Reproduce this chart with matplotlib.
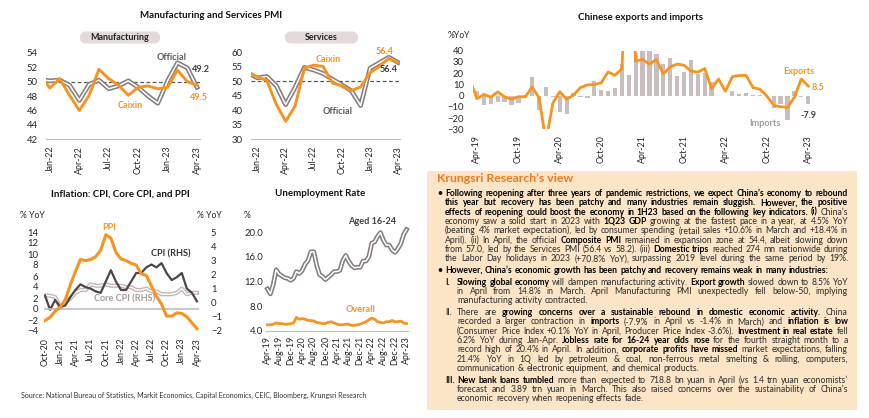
import matplotlib
matplotlib.use('Agg')
import matplotlib.pyplot as plt
from matplotlib.patches import FancyBboxPatch, Rectangle
from matplotlib.font_manager import FontProperties
import pandas as pd

plt.rcParams['font.family'] = ['Lato', 'DejaVu Sans']

W, H = 870, 418
ORANGE = '#F7931E'
OFFICIAL = '#877C7D'
LIGHTGREY = '#C4B6B6'
TXT = '#262626'

# ---- data ----
pmi_months = list(pd.date_range('2021-12-01', '2023-04-01', freq='MS').strftime('%b-%y'))
pmi_ticks = ['Jan-22', 'Apr-22', 'Jul-22', 'Oct-22', 'Jan-23', 'Apr-23']
mfg_official = [50.3, 50.1, 50.2, 49.5, 47.4, 49.6, 50.2, 49.0, 49.4, 50.1, 49.2, 48.0, 47.0, 50.1, 52.6, 51.9, 49.2]
mfg_caixin = [50.9, 49.1, 50.4, 48.1, 46.0, 48.1, 51.7, 50.4, 49.5, 48.1, 49.2, 49.4, 49.0, 49.2, 51.6, 50.0, 49.5]
srv_official = [52.7, 51.1, 51.6, 48.4, 41.9, 47.8, 54.7, 53.8, 52.6, 50.6, 48.7, 46.7, 41.6, 54.4, 56.3, 58.2, 56.4]
srv_caixin = [53.1, 51.4, 50.2, 42.0, 36.2, 41.4, 54.5, 55.5, 55.0, 49.3, 48.4, 46.7, 48.0, 52.9, 55.0, 57.8, 56.4]

trade_months = list(pd.date_range('2019-03-01', '2023-04-01', freq='MS').strftime('%b-%y'))
trade_ticks = ['Apr-19', 'Oct-19', 'Apr-20', 'Oct-20', 'Apr-21', 'Oct-21', 'Apr-22', 'Oct-22', 'Apr-23']
exports = [13.8, -2.7, 1.1, -1.3, 3.3, -1.0, -3.2, -0.9, -1.1, 7.6,
           -2.0, -40.6, -6.6, 3.5, -3.3, 0.5, 7.2, 9.5, 9.9, 11.4, 21.1, 18.1,
           24.0, 154.9, 30.6, 32.3, 27.9, 32.2, 19.3, 25.6, 28.1, 27.1, 22.0, 20.9,
           24.1, 6.2, 14.7, 3.9, 16.9, 17.9, 18.0, 7.1, 5.7, -0.3, -8.7, -9.9,
           -10.5, -1.3, 14.8, 8.5]
imports = [-7.6, 4.0, -8.5, -7.3, -5.3, -5.6, -8.5, -6.4, 0.3, 16.3,
           -12.6, 7.5, -0.9, -14.2, -16.7, 2.7, -1.4, -2.1, 13.2, 4.7, 4.5, 6.5,
           28.0, 18.5, 38.1, 43.1, 51.1, 36.7, 28.1, 33.1, 17.6, 20.6, 31.7, 19.5,
           20.5, 11.7, -0.1, 0.0, 4.1, 1.0, 2.3, 0.3, 0.3, -0.7, -10.6, -7.5,
           -21.3, 4.2, -1.4, -7.9]

infl_months = list(pd.date_range('2020-10-01', '2023-04-01', freq='MS').strftime('%b-%y'))
infl_ticks = ['Oct-20', 'Jan-21', 'Apr-21', 'Jul-21', 'Oct-21', 'Jan-22', 'Apr-22', 'Jul-22', 'Oct-22', 'Jan-23', 'Apr-23']
ppi = [-2.1, -1.5, -0.4, 0.3, 1.7, 4.4, 6.8, 9.0, 8.8, 9.0, 9.5, 10.7, 13.5, 12.9, 10.3, 9.1,
       8.8, 8.3, 8.0, 6.4, 6.1, 4.2, 2.3, 0.9, -1.3, -1.3, -0.7, -0.8, -1.4, -2.5, -3.6]
cpi = [0.5, -0.5, 0.2, -0.3, -0.2, 0.4, 0.9, 1.3, 1.1, 1.0, 0.8, 0.7, 1.5, 2.3, 1.5, 0.9,
       0.9, 1.5, 2.1, 2.1, 2.5, 2.7, 2.5, 2.8, 2.1, 1.6, 1.8, 2.1, 1.0, 0.7, 0.1]
core_cpi = [0.5, 0.5, 0.4, -0.3, 0.0, 0.3, 0.7, 0.9, 0.9, 1.3, 1.2, 1.2, 1.3, 1.2, 1.2, 1.2,
            1.1, 1.1, 0.9, 0.9, 1.0, 0.8, 0.8, 0.6, 0.6, 0.6, 0.7, 1.0, 0.6, 0.7, 0.7]

unemp_months = list(pd.date_range('2019-04-01', '2023-04-01', freq='MS').strftime('%b-%y'))
unemp_ticks = unemp_months[::4]
youth = [10.8, 10.0, 11.5, 13.9, 13.2, 12.9, 12.6, 12.5, 12.2,
         12.5, 13.6, 13.3, 13.8, 14.8, 15.4, 16.8, 16.8, 14.6, 13.1, 12.8, 12.3,
         12.7, 13.1, 13.6, 13.6, 13.8, 15.4, 16.2, 15.3, 14.6, 14.2, 14.3, 14.3,
         15.3, 15.3, 16.0, 18.2, 18.4, 19.3, 19.9, 18.7, 17.9, 17.9, 17.1, 16.7,
         17.3, 18.1, 19.6, 20.4]
overall = [5.0, 5.0, 5.1, 5.3, 5.2, 5.2, 5.1, 5.1, 5.2,
           5.3, 6.2, 5.9, 6.0, 5.9, 5.7, 5.7, 5.6, 5.4, 5.3, 5.2, 5.2,
           5.4, 5.5, 5.3, 5.1, 5.0, 5.0, 5.1, 5.1, 4.9, 4.9, 5.0, 5.1,
           5.3, 5.5, 5.8, 6.1, 5.9, 5.5, 5.4, 5.3, 5.5, 5.5, 5.7, 5.5,
           5.5, 5.6, 5.3, 5.2]

# ---- figure ----
fig = plt.figure(figsize=(W / 100, H / 100), dpi=100)
fig.patch.set_facecolor('white')
ov = fig.add_axes([0, 0, 1, 1])
ov.set_xlim(0, W)
ov.set_ylim(H, 0)
ov.axis('off')
ov.set_zorder(5)


def px_axes(l, t, r, b):
    return fig.add_axes([l / W, 1 - b / H, (r - l) / W, (b - t) / H])


def base_style(ax, ypad, xpad):
    for s in ax.spines.values():
        s.set_visible(False)
    ax.tick_params(length=0, colors=TXT)
    ax.tick_params(axis='y', pad=ypad, labelsize=6.8)
    ax.tick_params(axis='x', pad=xpad, labelsize=6.4)
    ax.patch.set_alpha(0)


def set_xlabels(ax, months, wanted):
    pos = [i for i, m in enumerate(months) if m in wanted]
    ax.set_xticks(pos)
    ax.set_xticklabels([months[i] for i in pos], rotation=90)


def double_line(ax, x, y, outer, lw=3.4, clip=True):
    ax.plot(x, y, color=outer, lw=lw, zorder=3, solid_joinstyle='round', clip_on=clip)
    ax.plot(x, y, color='white', lw=lw * 0.33, zorder=3.1, solid_joinstyle='round', clip_on=clip)


def note(x, y, s, color, size=6.6, bold=True, ha='center'):
    ov.text(x, y, s, color=color, fontsize=size, fontweight='bold' if bold else 'normal',
            ha=ha, va='center')


# ---- PMI panels ----
ov.text(211, 16, 'Manufacturing and Services PMI', fontsize=7.0, fontweight='bold',
        ha='center', va='center', color='#111111')
for cx, w, label in [(120, 80, 'Manufacturing'), (321.5, 73, 'Services')]:
    ov.add_patch(FancyBboxPatch((cx - w / 2, 31.5), w, 12, boxstyle='round,pad=0,rounding_size=6',
                                fc='#E4DADA', ec='none'))
    ov.text(cx, 37.5, label, fontsize=6.4, fontweight='bold', ha='center', va='center', color='#222222')

xp = range(len(pmi_months))
ax1 = px_axes(46, 52.7, 200, 139.3)
base_style(ax1, 6.0, 4.8)
ax1.axhline(50, color='#595959', lw=0.9, ls=(0, (3, 2)), zorder=1)
double_line(ax1, xp, mfg_official, OFFICIAL)
ax1.plot(xp, mfg_caixin, color=ORANGE, lw=2.1, zorder=4)
ax1.set_xlim(0.6, 16.3)
ax1.set_ylim(42, 54)
ax1.set_yticks(range(42, 55, 2))
ax1.spines['bottom'].set_visible(True)
ax1.spines['bottom'].set_color('#BFBFBF')
set_xlabels(ax1, pmi_months, pmi_ticks)
note(172, 57, 'Official', '#595959')
note(201, 70, '49.2', '#404040')
note(199, 98, '49.5', ORANGE)
note(130, 106, 'Caixin', ORANGE)

ax2 = px_axes(251, 52, 400, 139.3)
base_style(ax2, 6.0, 4.8)
ax2.axhline(50, color='#595959', lw=0.9, ls=(0, (3, 2)), zorder=1)
double_line(ax2, xp, srv_official, OFFICIAL)
ax2.plot(xp, srv_caixin, color=ORANGE, lw=2.1, zorder=4)
ax2.set_xlim(0.3, 16.2)
ax2.set_ylim(30, 60)
ax2.set_yticks(range(30, 61, 5))
ax2.spines['bottom'].set_visible(True)
ax2.spines['bottom'].set_color('#BFBFBF')
set_xlabels(ax2, pmi_months, pmi_ticks)
note(328, 59, 'Caixin', ORANGE)
note(385, 52, '56.4', ORANGE)
note(389, 70, '56.4', '#404040')
note(338, 111, 'Official', '#595959')

# ---- exports / imports ----
ov.text(641, 17, 'Chinese exports and imports', fontsize=7.0, fontweight='bold',
        ha='center', va='center', color='#111111')
ov.text(459, 35, '%YoY', fontsize=6.2, ha='center', va='center', color=TXT)
xt = range(len(trade_months))
ax3 = px_axes(473.5, 50.7, 811, 129.3)
base_style(ax3, 7.0, 4.0)
ax3.bar(xt, imports, width=0.62, color='#C9BDBD', zorder=2)
ax3.plot(xt, exports, color=ORANGE, lw=2.0, zorder=3)
ax3.set_xlim(0.5, 49.4)
ax3.set_ylim(-30, 40)
ax3.set_yticks(range(-30, 41, 10))
set_xlabels(ax3, trade_months, trade_ticks)
note(799, 71, 'Exports', ORANGE)
note(818, 87, '8.5', ORANGE)
note(808, 116, '-7.9', '#404040')
note(765, 124, 'Imports', '#A89A9B')

# ---- inflation ----
ov.text(120, 194, 'Inflation: CPI, Core CPI, and PPI', fontsize=7.0, fontweight='bold',
        ha='center', va='center', color='#111111')
ov.text(32, 216, '% YoY', fontsize=6.2, ha='center', va='center', color=TXT)
ov.text(209, 216, '% YoY', fontsize=6.2, ha='center', va='center', color=TXT)
xi = range(len(infl_months))
ax4 = px_axes(44, 232, 199, 331)
base_style(ax4, 8.5, 5.0)
ax4b = ax4.twinx()
base_style(ax4b, 4.0, 5.0)
ax4.yaxis.tick_right()
ax4b.yaxis.tick_left()
double_line(ax4, xi, core_cpi, LIGHTGREY, lw=3.0)
ax4.plot(xi, cpi, color='#4F4446', lw=1.6, zorder=4)
ax4.set_ylim(-2, 5)
ax4.set_yticks(range(-2, 6))
ax4.set_xlim(-0.2, 30.4)
set_xlabels(ax4, infl_months, infl_ticks)
ax4b.axhline(0, color='#BFBFBF', lw=1.2, zorder=1)
ax4b.plot(xi, ppi, color=ORANGE, lw=2.2, zorder=4)
ax4b.set_ylim(-4, 14)
ax4b.set_yticks(range(-4, 15, 2))
ax4b.set_xlim(-0.2, 30.4)
note(109, 228, 'PPI', ORANGE)
note(171, 254, 'CPI (RHS)', '#3A3133')
note(125, 299, 'Core CPI (RHS)', '#A89A9B')

# ---- unemployment ----
ov.text(320, 193, 'Unemployment Rate', fontsize=7.0, fontweight='bold',
        ha='center', va='center', color='#111111')
ov.text(247, 216, '%', fontsize=6.2, ha='center', va='center', color=TXT)
xu = range(len(unemp_months))
ax5 = px_axes(266, 232, 408, 331)
base_style(ax5, 2.0, 3.6)
double_line(ax5, xu, youth, OFFICIAL, clip=False)
ax5.plot(xu, overall, color=ORANGE, lw=2.0, zorder=4)
ax5.set_xlim(-0.5, 48.5)
ax5.set_ylim(4, 20)
ax5.set_yticks([4, 8, 12, 16, 20])
ax5.set_yticklabels(['%.1f' % v for v in [4, 8, 12, 16, 20]])
ax5.spines['bottom'].set_visible(True)
ax5.spines['bottom'].set_color('#BFBFBF')
set_xlabels(ax5, unemp_months, unemp_ticks)
note(372, 222, 'Aged 16-24', '#4A4042')
note(361, 310, 'Overall', ORANGE)

ov.text(21, 395, 'Source: National Bureau of Statistics, Markit Economics, Capital Economics, CEIC, '
        'Bloomberg, Krungsri Research', fontsize=5.0, ha='left', va='center', color='#333333')

# ---- text box ----
ov.add_patch(Rectangle((427, 171), 430, 239, fc='#FCE4C6', ec='none'))
ov.text(437, 179, 'Krungsri Research’s view', fontsize=8.8, fontweight='bold',
        color='#F07A1E', ha='left', va='center')

paras = [
    dict(marker='•', mx=437, tx=445, mbold=True, full_last=True, lines=[
        [('Following reopening after three years of pandemic restrictions, we expect China’s economy to rebound', True)],
        [('this year but recovery has been patchy and many industries remain sluggish. However, the positive', True)],
        [('effects of reopening could boost the economy in 1H23 based on the following key indicators. (i)', True),
         (' China’s', False)],
        [('economy saw a solid start in 2023 with ', False), ('1Q23 GDP', True),
         (' growing at the fastest pace in a year, at 4.5% YoY', False)],
        [('(beating 4% market expectation), led by consumer spending (retail sales +10.6% in March and +18.4% in', False)],
        [('April).  (ii) In April, the official ', False), ('Composite PMI', True),
         (' remained in expansion zone at 54.4, albeit slowing down', False)],
        [('from 57.0, led by the Services PMI (56.4 vs 58.2). (iii) ', False), ('Domestic trips', True),
         (' reached 274 mn nationwide during', False)],
        [('the Labor Day holidays in 2023 (+70.8% YoY), surpassing 2019 level during the same period by 19%.', False)],
    ]),
    dict(marker='•', mx=437, tx=445, mbold=True, full_last=False, lines=[
        [('However, China’s economic growth has been patchy and recovery remains weak in many industries:', True)],
    ]),
    dict(marker='I.', mx=445, tx=457, mbold=True, full_last=False, lines=[
        [('Slowing global economy', True), (' will dampen manufacturing activity. ', False),
         ('Export growth', True), (' slowed down to 8.5% YoY', False)],
        [('in April from 14.8% in March. April Manufacturing PMI unexpectedly fell below-50, implying', False)],
        [('manufacturing activity contracted.', False)],
    ]),
    dict(marker='II.', mx=445, tx=457, mbold=False, full_last=False, lines=[
        [('There are ', False), ('growing concerns over a sustainable rebound in domestic economic activity.', True),
         (' China', False)],
        [('recorded a larger  contraction in ', False), ('imports', True),
         (' (-7.9% in April vs -1.4% in March) and ', False), ('inflation is low', True)],
        [('(Consumer Price Index +0.1% YoY in April, Producer Price Index -3.6%). ', False),
         ('Investment in real estate', True), (' fell', False)],
        [('6.2% YoY during Jan-Apr. ', False), ('Jobless rate for 16-24 year olds rose', True),
         (' for the fourth straight month to a', False)],
        [('record high of 20.4% in April. In addition, ', False), ('corporate profits have missed', True),
         (' market expectations, falling', False)],
        [('21.4% YoY in 1Q led by petroleum & coal, non-ferrous metal smelting & rolling, computers,', False)],
        [('communication & electronic equipment, and chemical products.', False)],
    ]),
    dict(marker='III.', mx=445, tx=457, mbold=True, full_last=False, lines=[
        [('New bank loans tumbled', True),
         (' more than expected to 718.8 bn yuan in April (vs 1.4 trn yuan economists’', False)],
        [('forecast and 3.89 trn yuan in March. This also raised concerns over the sustainability of China’s', False)],
        [('economic recovery when reopening effects fade.', False)],
    ]),
]

RIGHT = 848
renderer = fig.canvas.get_renderer()


def measure(s, bold, size):
    prop = FontProperties(family=['Lato'], weight='bold' if bold else 'normal', size=size)
    return renderer.get_text_width_height_descent(s, prop, ismath=False)[0]


def words_of(line):
    return [(w, b) for txt, b in line for w in txt.split()]


def natural(ws, size):
    sp = measure('a a', False, size) - measure('aa', False, size)
    return sum(measure(w, b, size) for w, b in ws) + (len(ws) - 1) * sp


# body size: the phrase "Following reopening after" is ~100 px wide in the reference
BODY = 6.0 * 100 / measure('Following reopening after', True, 6.0)

y = 193.7
LINE, PARA = 9.3, 2.5
for p in paras:
    ov.text(p['mx'], y + 2.3, p['marker'], fontsize=BODY, va='baseline', ha='left',
            fontweight='bold' if p['mbold'] else 'normal', color='#111111')
    avail = RIGHT - p['tx']
    for k, line in enumerate(p['lines']):
        ws = words_of(line)
        size = BODY
        nat = natural(ws, size)
        if nat > avail:
            size = size * avail / nat * 0.995
        widths = [measure(w, b, size) for w, b in ws]
        space = measure('a a', False, size) - measure('aa', False, size)
        if k == len(p['lines']) - 1 and not p['full_last']:
            gap = space
        else:
            gap = (avail - sum(widths)) / (len(ws) - 1)
        x = p['tx']
        for (w, b), wd in zip(ws, widths):
            ov.text(x, y + 2.3, w, fontsize=size, fontweight='bold' if b else 'normal',
                    color='#000000' if b else '#2B2B2B', va='baseline', ha='left')
            x += wd + gap
        y += LINE
    y += PARA

fig.savefig('out.png', dpi=100, facecolor='white')
